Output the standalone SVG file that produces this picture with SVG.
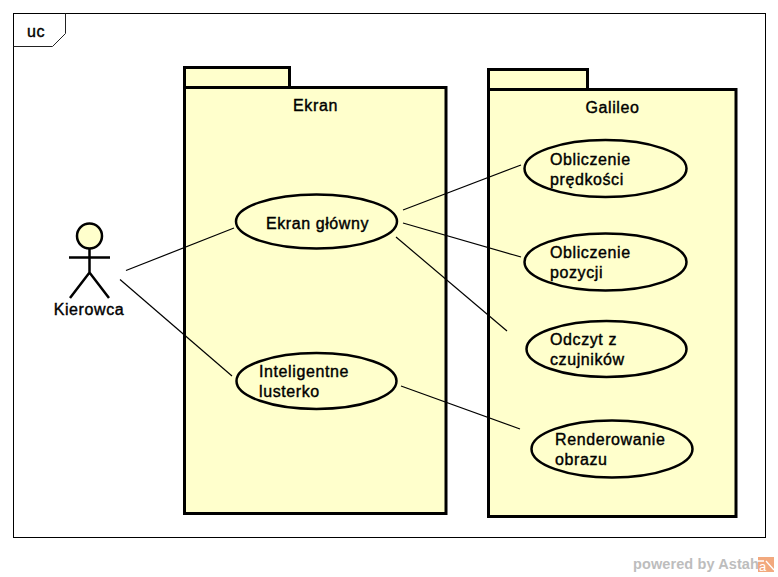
<svg xmlns="http://www.w3.org/2000/svg" width="778" height="577" viewBox="0 0 778 577">
<style>
text{font-family:"Liberation Sans",Arial,sans-serif;font-size:16px;letter-spacing:.6px;fill:#000;stroke:#000;stroke-width:.4px}
.pkg{fill:#ffffcc;stroke:#000;stroke-width:3}
.uc{fill:#ffffcc;stroke:#000;stroke-width:2.5}
.con{stroke:#000;stroke-width:1.2;fill:none}
.m{text-anchor:middle}
</style>
<rect width="778" height="577" fill="#fff"/>
<g id="frame">
<rect x="13.500" y="13.500" width="752" height="524" fill="#fff" stroke="#000" stroke-width="1"/>
<path d="M13.500 46.500H52.500L65.500 33.500V13.500" fill="none" stroke="#222" stroke-width="1"/>
<text x="27" y="37">uc</text>
</g>
<g id="pkg-ekran">
<path class="pkg" d="M184.500 87V67.500H289.500V87"/>
<rect class="pkg" x="184.500" y="87.500" width="261.500" height="426"/>
<text class="m" x="315.500" y="111">Ekran</text>
</g>
<g id="pkg-galileo">
<path class="pkg" d="M488.500 89V69.500H587.500V89"/>
<rect class="pkg" x="488.500" y="89.500" width="247.500" height="427"/>
<text class="m" x="612.500" y="113">Galileo</text>
</g>
<g id="connectors">
<path class="con" d="M126 270.500L234 228"/>
<path class="con" d="M120 279.500L232 376"/>
<path class="con" d="M403 210L521 165"/>
<path class="con" d="M403 223L521 257"/>
<path class="con" d="M396 237L507 331"/>
<path class="con" d="M401 386L520 429"/>
</g>
<g id="actor-kierowca">
<circle cx="89.500" cy="236" r="12.500" fill="#ffffcc" stroke="#000" stroke-width="2.500"/>
<path d="M89.500 249V272.500M69 257.500H110M70 298L89.500 272.500L109 298" fill="none" stroke="#000" stroke-width="2.500"/>
<text class="m" x="89" y="315">Kierowca</text>
</g>
<g id="uc-ekran-glowny"><ellipse class="uc" cx="316.500" cy="221.500" rx="80.500" ry="27"/><text class="m" x="317.500" y="229">Ekran główny</text></g>
<g id="uc-lusterko"><ellipse class="uc" cx="316.500" cy="381" rx="80" ry="28"/><text x="259" y="377">Inteligentne</text><text x="259" y="397">lusterko</text></g>
<g id="uc-predkosc"><ellipse class="uc" cx="605.500" cy="168.500" rx="81" ry="28.500"/><text x="550" y="165">Obliczenie</text><text x="550" y="185">prędkości</text></g>
<g id="uc-pozycja"><ellipse class="uc" cx="605.500" cy="262" rx="81" ry="28.500"/><text x="550" y="258">Obliczenie</text><text x="550" y="278">pozycji</text></g>
<g id="uc-czujniki"><ellipse class="uc" cx="606.500" cy="349" rx="80" ry="28"/><text x="550" y="345">Odczyt z</text><text x="550" y="365">czujników</text></g>
<g id="uc-renderowanie"><ellipse class="uc" cx="612" cy="449" rx="80.500" ry="28.500"/><text x="555" y="445">Renderowanie</text><text x="555" y="465">obrazu</text></g>
<g id="watermark">
<text x="633" y="569" style="font-size:14.500px;letter-spacing:.1px;font-weight:bold;fill:#bdbdbd;stroke:none">powered by Astah</text>
<rect x="758" y="557" width="16" height="15" fill="#f2a97e"/>
<path d="M766 561L774 570M758 561H764" stroke="#fff" stroke-width="1.300" fill="none"/>
<text x="759" y="571" style="font-size:13px;letter-spacing:0;fill:#fff;stroke:none">a</text>
</g>
</svg>
